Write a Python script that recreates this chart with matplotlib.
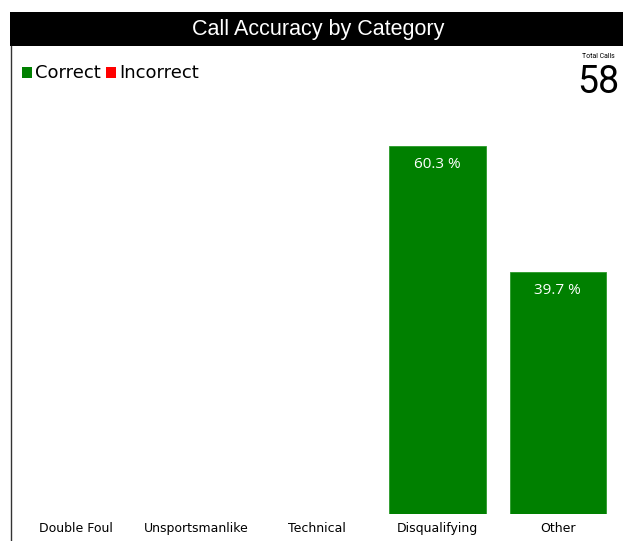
import matplotlib
matplotlib.use("Agg")
import matplotlib.pyplot as plt
from matplotlib.patches import Rectangle
from matplotlib.lines import Line2D

categories = ["Double Foul", "Unsportsmanlike", "Technical", "Disqualifying", "Other"]
correct = [0, 0, 0, 60.3, 39.7]
incorrect = [0, 0, 0, 0, 0]
total_calls = 58
title = "Call Accuracy by Category"

W, H = 623, 541
fig = plt.figure(figsize=(W / 100, H / 100), dpi=100)
fig.patch.set_facecolor("white")

def fx(x):
    return x / W

def fy(y):
    return 1 - y / H

# title bar
fig.patches.append(Rectangle((fx(10), fy(46)), fx(W) - fx(10), fy(12) - fy(46),
                             transform=fig.transFigure, facecolor="black", edgecolor="none"))
fig.text(fx(318), fy(30), title, color="white", fontsize=15.5, ha="center", va="center",
         family=["Liberation Sans", "DejaVu Sans"])
# left border
fig.lines.append(Line2D([fx(10.5), fx(10.5)], [fy(46), 0], transform=fig.transFigure,
                        color="#333333", linewidth=1))

# legend
fig.patches.append(Rectangle((fx(22), fy(78)), fx(10), fy(67) - fy(78), transform=fig.transFigure,
                             facecolor="#008000", edgecolor="none"))
fig.text(fx(35), fy(73), "Correct", fontsize=13, ha="left", va="center",
         family=["DejaVu Sans"], color="black")
fig.patches.append(Rectangle((fx(106), fy(78)), fx(10), fy(67) - fy(78), transform=fig.transFigure,
                             facecolor="#ff0000", edgecolor="none"))
fig.text(fx(119), fy(73), "Incorrect", fontsize=13, ha="left", va="center",
         family=["DejaVu Sans"], color="black")

# total calls
fig.text(fx(598), fy(57), "Total Calls", fontsize=5, ha="center", va="center",
         family=["Roboto", "DejaVu Sans"])
fig.text(fx(598), fy(93), str(total_calls), fontsize=27, ha="center", va="baseline",
         family=["Roboto", "DejaVu Sans"])

# axes
ax_top, ax_bot = 100, 514
ax = fig.add_axes([fx(16), fy(ax_bot), fx(618) - fx(16), fy(ax_top) - fy(ax_bot)])
x = list(range(len(categories)))
bars = ax.bar(x, correct, width=0.8, color="#008000", edgecolor="#2a9a2a", linewidth=0.6)
ax.bar(x, incorrect, width=0.8, bottom=correct, color="#ff0000", linewidth=0)
ymax = max(correct) * 414 / 368
ax.set_ylim(0, ymax)
ax.set_xlim(-0.5, len(categories) - 0.5)
for b, v in zip(bars, correct):
    if v > 0:
        ax.text(b.get_x() + b.get_width() / 2, v - ymax * 0.045, f"{v:.1f} %", color="white",
                fontsize=11, ha="center", va="center", family=["Open Sans", "DejaVu Sans"])
ax.set_xticks(x)
ax.set_xticklabels(categories, fontsize=9, family=["DejaVu Sans"])
ax.tick_params(axis="x", length=0, pad=6)
ax.set_yticks([])
for s in ax.spines.values():
    s.set_visible(False)
ax.patch.set_alpha(0)

fig.savefig("out.png", dpi=100)
